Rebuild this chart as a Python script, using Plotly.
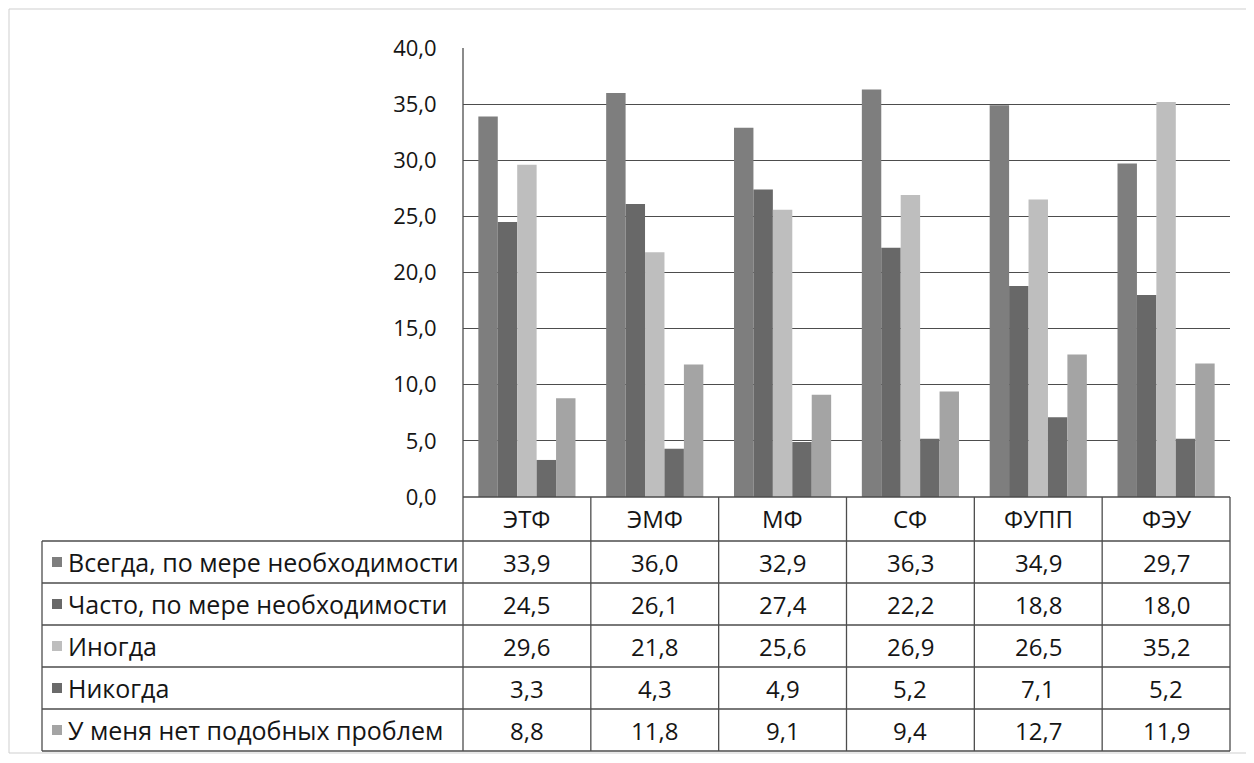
import plotly.graph_objects as go

categories = ["ЭТФ", "ЭМФ", "МФ", "СФ", "ФУПП", "ФЭУ"]
series_names = [
    "Всегда, по мере необходимости",
    "Часто, по мере необходимости",
    "Иногда",
    "Никогда",
    "У меня нет подобных проблем",
]
vsegda = [33.9, 36.0, 32.9, 36.3, 34.9, 29.7]
chasto = [24.5, 26.1, 27.4, 22.2, 18.8, 18.0]
inogda = [29.6, 21.8, 25.6, 26.9, 26.5, 35.2]
nikogda = [3.3, 4.3, 4.9, 5.2, 7.1, 5.2]
net_problem = [8.8, 11.8, 9.1, 9.4, 12.7, 11.9]
series_values = [vsegda, chasto, inogda, nikogda, net_problem]
colors = ["#7e7e7e", "#686868", "#bebebe", "#6a6a6a", "#a4a4a4"]

# page body has an 8px margin: the figure is shrunk by it and positions offset
OFF = 8
W, H = 1254 - OFF, 763 - OFF
FONT = "Open Sans"
FS = 24
FS_TICK = 22
FS_LAB = 25
TXT = "#151515"
LINE = "#4d4d4d"

# layout geometry in (window) pixels
PX0, PX1 = 463, 1230      # plot area x
PY_TOP, PY_BOT = 48, 497  # plot area y
TABLE_LEFT = 42
ROW_H = 42
HEADER_BOT = 541


def px(x):
    return (x - OFF) / W


def py(y):
    return 1 - (y - OFF) / H


fig = go.Figure()
for name, vals, col in zip(series_names, series_values, colors):
    fig.add_trace(go.Bar(x=categories, y=vals, name=name, marker=dict(color=col, line=dict(width=0))))

shapes = []
annotations = []

n_cat = len(categories)
col_w = (PX1 - PX0) / n_cat
n_rows = len(series_names)
table_bot = HEADER_BOT + ROW_H * n_rows


def hline(y, x0, x1, color=LINE, w=1.3):
    shapes.append(dict(type="line", xref="paper", yref="paper", x0=px(x0), x1=px(x1), y0=py(y), y1=py(y),
                       line=dict(color=color, width=w)))


def vline(x, y0, y1, color=LINE, w=1.3):
    shapes.append(dict(type="line", xref="paper", yref="paper", x0=px(x), x1=px(x), y0=py(y0), y1=py(y1),
                       line=dict(color=color, width=w)))


# outer faint page frame
shapes.append(dict(type="rect", xref="paper", yref="paper", x0=px(9), x1=px(1250), y0=py(753), y1=py(9),
                   line=dict(color="#cfcfcf", width=1), layer="below"))

# table lines
hline(PY_BOT, PX0, PX1)
hline(HEADER_BOT, TABLE_LEFT, PX1)
for r in range(1, n_rows + 1):
    hline(HEADER_BOT + r * ROW_H, TABLE_LEFT, PX1)
vline(TABLE_LEFT, HEADER_BOT, table_bot)
vline(PX0, PY_TOP, table_bot)
for c in range(1, n_cat + 1):
    vline(PX0 + c * col_w, PY_BOT, table_bot)

# header labels
for c, cat in enumerate(categories):
    annotations.append(dict(xref="paper", yref="paper", x=px(PX0 + (c + 0.5) * col_w), y=py((PY_BOT + HEADER_BOT) / 2),
                            text=cat, showarrow=False, xanchor="center", yanchor="middle",
                            font=dict(family=FONT, size=FS, color=TXT)))

# rows
for r, (name, vals, col) in enumerate(zip(series_names, series_values, colors)):
    yc = HEADER_BOT + (r + 0.5) * ROW_H
    shapes.append(dict(type="rect", xref="paper", yref="paper", x0=px(52), x1=px(62), y0=py(yc + 5), y1=py(yc - 5),
                       fillcolor=col, line=dict(width=0)))
    annotations.append(dict(xref="paper", yref="paper", x=px(66), y=py(yc), text=name, showarrow=False,
                            xanchor="left", yanchor="middle", font=dict(family=FONT, size=FS_LAB, color=TXT)))
    for c, v in enumerate(vals):
        annotations.append(dict(xref="paper", yref="paper", x=px(PX0 + (c + 0.5) * col_w), y=py(yc),
                                text=f"{v:.1f}".replace(".", ","), showarrow=False,
                                xanchor="center", yanchor="middle",
                                font=dict(family=FONT, size=FS, color=TXT)))

fig.update_layout(
    width=W, height=H, autosize=False,
    margin=dict(l=0, r=0, t=0, b=0, pad=0, autoexpand=False),
    paper_bgcolor="white", plot_bgcolor="white",
    barmode="group", bargap=0.24, bargroupgap=0,
    showlegend=False,
    separators=", ",
    font=dict(family=FONT, size=FS, color=TXT),
    shapes=shapes, annotations=annotations,
    xaxis=dict(domain=[px(PX0), px(PX1)], showticklabels=False, showgrid=False, zeroline=False,
               showline=False, fixedrange=True, automargin=False),
    yaxis=dict(domain=[py(PY_BOT), py(PY_TOP)], range=[0, 40], dtick=5, tickformat=".1f",
               showgrid=True, gridcolor=LINE, gridwidth=1.3, zeroline=False, showline=False,
               ticks="outside", ticklen=21, tickcolor="rgba(0,0,0,0)", automargin=False,
               tickfont=dict(family=FONT, size=FS_TICK, color=TXT)),
)

fig.write_html("out.html")
